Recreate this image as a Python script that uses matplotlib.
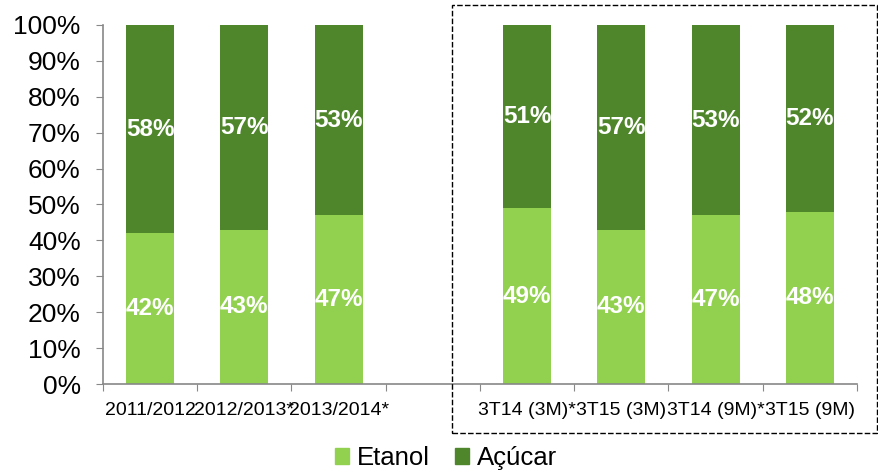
import numpy as np
import matplotlib.pyplot as plt
from matplotlib.patches import Rectangle, Patch

plt.rcParams['font.family'] = ['Liberation Sans', 'DejaVu Sans']

# dados
categorias = ["2011/2012", "2012/2013*", "2013/2014*", "",
              "3T14 (3M)*", "3T15 (3M)", "3T14 (9M)*", "3T15 (9M)"]
etanol = [42, 43, 47, None, 49, 43, 47, 48]
acucar = [58, 57, 53, None, 51, 57, 53, 52]

cor_etanol = "#92D050"
cor_acucar = "#4F862B"

fig = plt.figure(figsize=(8.79, 4.70), dpi=100)
ax = fig.add_axes([103 / 879, 1 - 384 / 470, (857 - 103) / 879, (384 - 25) / 470])

x = np.arange(len(categorias))
for i, (e, a) in enumerate(zip(etanol, acucar)):
    if e is None:
        continue
    ax.bar(i, e, width=0.51, color=cor_etanol)
    ax.bar(i, a, bottom=e, width=0.51, color=cor_acucar)
    ax.text(i, e / 2, f"{e}%", ha="center", va="center", color="white",
            fontsize=17.5, fontweight="bold")
    ax.text(i, e + a / 2, f"{a}%", ha="center", va="center", color="white",
            fontsize=17.5, fontweight="bold")

ax.set_xlim(-0.5, len(categorias) - 0.5)
ax.set_ylim(0, 100)
ax.set_yticks(np.arange(0, 101, 10))
ax.set_yticklabels([f"{v}%" for v in range(0, 101, 10)], fontsize=19)

# ticks nas fronteiras das categorias, rótulos no centro
ax.set_xticks(np.arange(-0.5, len(categorias), 1))
ax.set_xticklabels([])
ax.set_xticks(x, minor=True)
ax.set_xticklabels(categorias, minor=True, fontsize=14)
ax.tick_params(axis="x", which="minor", length=0, pad=13)
ax.tick_params(axis="x", which="major", length=5, color="#888888")
ax.tick_params(axis="y", length=5, color="#888888", pad=11)

for s in ["top", "right"]:
    ax.spines[s].set_visible(False)
for s in ["left", "bottom"]:
    ax.spines[s].set_color("#888888")
    ax.spines[s].set_linewidth(1.2)

# caixa tracejada
fig.patches.append(Rectangle((452 / 879, 1 - 433 / 470), (877 - 452) / 879, (433 - 5) / 470,
                             transform=fig.transFigure, fill=False, edgecolor="black",
                             linestyle=(0, (4, 1.6)), linewidth=1.0))

handles = [Patch(color=cor_etanol, label="Etanol"), Patch(color=cor_acucar, label="Açúcar")]
fig.legend(handles=handles, loc="center", bbox_to_anchor=(446 / 879, 1 - 458 / 470),
           ncol=2, frameon=False, fontsize=18.5, handlelength=0.55, handleheight=0.55,
           handletextpad=0.3, columnspacing=1.0, borderpad=0)

fig.savefig("out.png", dpi=100)
